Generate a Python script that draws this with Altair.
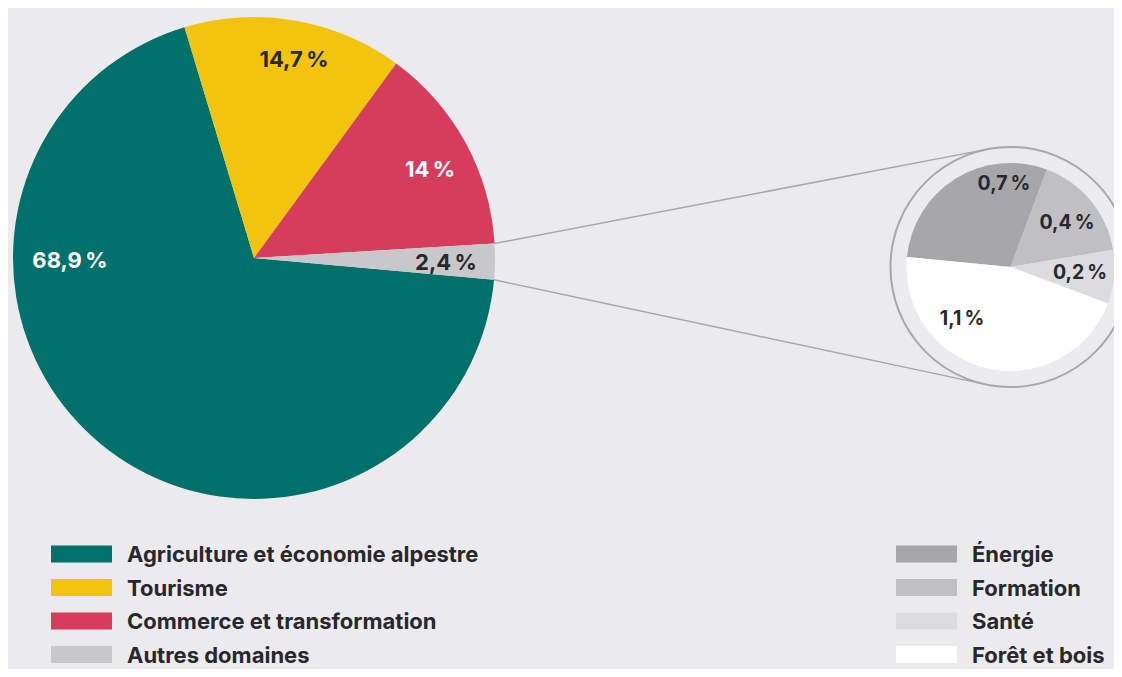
import math
import altair as alt
import pandas as pd

# ---------------- data ----------------
big_labels = ["Agriculture et économie alpestre", "Tourisme",
              "Commerce et transformation", "Autres domaines"]
big_values = [68.9, 14.7, 14.0, 2.4]
big_texts = ["68,9\u202f%", "14,7\u202f%", "14\u202f%", "2,4\u202f%"]

small_labels = ["Énergie", "Formation", "Santé", "Forêt et bois"]
small_values = [0.7, 0.4, 0.2, 1.1]
small_texts = ["0,7\u202f%", "0,4\u202f%", "0,2\u202f%", "1,1\u202f%"]

# ---------------- styles / layout ----------------
big_colors = ["#00706a", "#f2c40d", "#d63d5c", "#c8c8ca"]
small_colors = ["#a7a7aa", "#c0c0c2", "#dcdcde", "#ffffff"]
big_text_colors = ["#ffffff", "#28282c", "#ffffff", "#28282c"]
small_text_colors = ["#28282c"] * 4
BG = "#ebebed"
LINE = "#a8a8aa"
DARK = "#28282c"
FONT = "Inter"

W, H = 1106, 661
BIG_CX, BIG_CY, BIG_R = 246, 250, 241
SHIFT = -6
SMALL_CX, SMALL_CY, SMALL_R, RING_R = 1008.5 + SHIFT, 259, 104, 120
BIG_START = math.radians(95.2)
SMALL_START = math.radians(275.5)

# label anchor positions (annotation placement)
big_label_pos = [(62, 253), (286, 52), (422, 162), (438, 255)]
small_label_pos = [(1002 + SHIFT, 176), (1065 + SHIFT, 215),
                   (1078 + SHIFT, 265), (960 + SHIFT, 311)]

LEG_Y0, LEG_STEP, LEG_H = 546, 33.5, 17
LEG_LEFT_X, LEG_RIGHT_X, LEG_W, LEG_GAP = 43, 888, 61, 15

color_scale = alt.Scale(domain=big_labels + small_labels,
                        range=big_colors + small_colors)

# ---------------- pies ----------------
big_df = pd.DataFrame({"label": big_labels, "value": big_values,
                       "order": list(range(len(big_labels)))})
small_df = pd.DataFrame({"label": small_labels, "value": small_values,
                         "order": list(range(len(small_labels)))})

big_pie = alt.Chart(big_df).mark_arc(outerRadius=BIG_R).encode(
    theta=alt.Theta("value:Q", stack=True,
                    scale=alt.Scale(domain=[0, sum(big_values)],
                                    range=[BIG_START, BIG_START + 2 * math.pi])),
    order=alt.Order("order:Q"),
    color=alt.Color("label:N", scale=color_scale, legend=None),
    x=alt.value(BIG_CX), y=alt.value(BIG_CY),
)

ring_df = pd.DataFrame({"value": [sum(small_values)]})
ring = alt.Chart(ring_df).mark_arc(
    outerRadius=RING_R, fill="#ececee", stroke=LINE, strokeWidth=2
).encode(
    theta=alt.Theta("value:Q", scale=alt.Scale(domain=[0, sum(small_values)],
                                               range=[0, 2 * math.pi])),
    x=alt.value(SMALL_CX), y=alt.value(SMALL_CY),
)

small_pie = alt.Chart(small_df).mark_arc(outerRadius=SMALL_R).encode(
    theta=alt.Theta("value:Q", stack=True,
                    scale=alt.Scale(domain=[0, sum(small_values)],
                                    range=[SMALL_START, SMALL_START + 2 * math.pi])),
    order=alt.Order("order:Q"),
    color=alt.Color("label:N", scale=color_scale, legend=None),
    x=alt.value(SMALL_CX), y=alt.value(SMALL_CY),
)

# ---------------- connector lines ----------------
total = sum(big_values)
a1 = BIG_START + 2 * math.pi * sum(big_values[:-1]) / total
a2 = BIG_START + 2 * math.pi
p1 = (BIG_CX + BIG_R * math.sin(a1), BIG_CY - BIG_R * math.cos(a1))
p2 = (BIG_CX + BIG_R * math.sin(a2), BIG_CY - BIG_R * math.cos(a2))


def tangent(p, sign):
    dx, dy = SMALL_CX - p[0], SMALL_CY - p[1]
    dist = math.hypot(dx, dy)
    base = math.atan2(dy, dx)
    d = base + sign * math.asin(RING_R / dist)
    L = math.sqrt(dist ** 2 - RING_R ** 2)
    return (p[0] + L * math.cos(d), p[1] + L * math.sin(d))


t1 = tangent(p1, -1)
t2 = tangent(p2, 1)
lines_df = pd.DataFrame({"x": [p1[0], p2[0]], "y": [p1[1], p2[1]],
                         "x2": [t1[0], t2[0]], "y2": [t1[1], t2[1]]})
lines = alt.Chart(lines_df).mark_rule(color=LINE, strokeWidth=1.5).encode(
    x=alt.X("x:Q", scale=None), y=alt.Y("y:Q", scale=None),
    x2="x2:Q", y2="y2:Q",
)

# ---------------- pie labels ----------------
lab_df = pd.DataFrame({
    "text": big_texts + small_texts,
    "x": [p[0] for p in big_label_pos + small_label_pos],
    "y": [p[1] for p in big_label_pos + small_label_pos],
    "tc": big_text_colors + small_text_colors,
    "size": [22] * 4 + [19.5] * 4,
})
labels = alt.Chart(lab_df).mark_text(
    font=FONT, fontWeight="bold", align="center", baseline="middle"
).encode(
    x=alt.X("x:Q", scale=None), y=alt.Y("y:Q", scale=None),
    text="text:N",
    color=alt.Color("tc:N", scale=None),
    size=alt.Size("size:Q", scale=None),
)

# ---------------- legends ----------------
leg_rows = []
for i, lab in enumerate(big_labels):
    leg_rows.append({"label": lab, "x": LEG_LEFT_X, "yc": LEG_Y0 + i * LEG_STEP})
for i, lab in enumerate(small_labels):
    leg_rows.append({"label": lab, "x": LEG_RIGHT_X, "yc": LEG_Y0 + i * LEG_STEP})
leg_df = pd.DataFrame(leg_rows)
leg_df["x2"] = leg_df["x"] + LEG_W
leg_df["tx"] = leg_df["x2"] + LEG_GAP
leg_df["y"] = leg_df["yc"] - LEG_H / 2
leg_df["y2"] = leg_df["yc"] + LEG_H / 2

leg_rect = alt.Chart(leg_df).mark_rect().encode(
    x=alt.X("x:Q", scale=None), x2="x2:Q",
    y=alt.Y("y:Q", scale=None), y2="y2:Q",
    color=alt.Color("label:N", scale=color_scale, legend=None),
)
leg_text = alt.Chart(leg_df).mark_text(
    font=FONT, fontWeight="bold", fontSize=22, align="left",
    baseline="middle", color=DARK, dy=1
).encode(
    x=alt.X("tx:Q", scale=None), y=alt.Y("yc:Q", scale=None),
    text="label:N",
)

chart = alt.layer(
    lines, big_pie, ring, small_pie, labels, leg_rect, leg_text
).resolve_scale(
    theta="independent"
).properties(
    width=W, height=H, padding=0, background=BG,
    autosize=alt.AutoSizeParams(type="none"),
).configure_view(stroke=None)

chart.save("out.html", embed_options={"renderer": "svg", "actions": False})
